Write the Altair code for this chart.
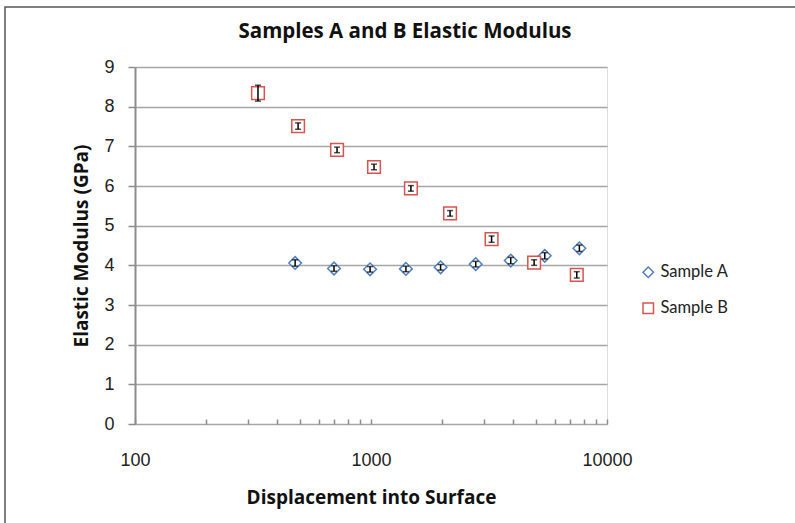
import altair as alt
import pandas as pd

# ---- data ----
series_names = ["Sample A", "Sample B"]

a_x = [477, 697, 991, 1406, 1972, 2778, 3910, 5448, 7638]
a_y = [4.06, 3.92, 3.90, 3.91, 3.95, 4.03, 4.12, 4.24, 4.43]
a_err = [0.08, 0.07, 0.07, 0.07, 0.07, 0.07, 0.08, 0.08, 0.08]

b_x = [332, 491, 718, 1030, 1476, 2163, 3243, 4911, 7447]
b_y = [8.34, 7.51, 6.91, 6.48, 5.94, 5.31, 4.66, 4.07, 3.76]
b_err = [0.20, 0.08, 0.07, 0.07, 0.07, 0.07, 0.08, 0.07, 0.08]

x_tick_values = [100, 200, 300, 400, 500, 600, 700, 800, 900,
                 1000, 2000, 3000, 4000, 5000, 6000, 7000, 8000, 9000, 10000]
x_label_values = [100, 1000, 10000]
y_tick_values = [0, 1, 2, 3, 4, 5, 6, 7, 8, 9]

series_colors = ["#4f81bd", "#d9534f"]
series_shapes = ["diamond", "square"]

rows = []
for name, xs, ys, es in [(series_names[0], a_x, a_y, a_err),
                         (series_names[1], b_x, b_y, b_err)]:
    for x, y, e in zip(xs, ys, es):
        rows.append({"series": name, "x": x, "y": y, "lo": y - e, "hi": y + e})
df = pd.DataFrame(rows)

W, H = 472, 357
GRAY = "#8c8c8c"
LABEL_FONT = "Liberation Sans"
TITLE_FONT = "Open Sans"
LEGEND_FONT = "Lato"

xscale = alt.Scale(type="log", domain=[100, 10000], nice=False)
yscale = alt.Scale(domain=[0, 9], nice=False, zero=True)

label_list = "[" + ",".join(str(v) for v in x_label_values) + "]"
xaxis = alt.Axis(
    values=x_tick_values,
    labelExpr=f"indexof({label_list}, datum.value) >= 0 ? format(datum.value, 'd') : ''",
    offset=-5, tickSize=5, tickColor=GRAY, tickWidth=1.5,
    domain=False, grid=False,
    labelFont=LABEL_FONT, labelFontSize=18, labelColor="#222",
    labelPadding=27, labelOverlap=False, labelFlush=False, labelBound=False,
    title="Displacement into Surface", titleFont=TITLE_FONT, titleFontSize=19,
    titleFontWeight="bold", titleColor="#111",
    titleX=W / 2, titleY=78, titleAlign="center", titleBaseline="middle",
)
yaxis = alt.Axis(
    values=y_tick_values, format="d",
    domain=True, domainColor=GRAY, domainWidth=2,
    ticks=True, tickSize=7, tickColor=GRAY, tickWidth=1.5,
    grid=True, gridColor="#a6a6a6", gridWidth=1.6,
    labelFont=LABEL_FONT, labelFontSize=18, labelColor="#222", labelPadding=14,
    title="Elastic Modulus (GPa)", titleFont=TITLE_FONT, titleFontSize=19,
    titleFontWeight="bold", titleColor="#111",
    titleX=-54, titleY=H / 2, titleAngle=-90, titleAlign="center", titleBaseline="middle",
)

legend = alt.Legend(
    title=None, orient="none", legendX=505, legendY=197,
    labelFont=LEGEND_FONT, labelFontSize=16.5, labelColor="#222",
    symbolStrokeWidth=1.5, symbolFillColor="white", symbolSize=110,
    rowPadding=19, labelOffset=4,
)

base = alt.Chart(df)

points = base.mark_point(filled=False, fill="white", fillOpacity=1, strokeWidth=1.5,
                         size=160, opacity=1).encode(
    x=alt.X("x:Q", scale=xscale, axis=xaxis),
    y=alt.Y("y:Q", scale=yscale, axis=yaxis),
    stroke=alt.Stroke("series:N", scale=alt.Scale(domain=series_names, range=series_colors),
                      legend=legend),
    shape=alt.Shape("series:N", scale=alt.Scale(domain=series_names, range=series_shapes),
                    legend=legend),
)

bars = base.mark_rule(color="black", strokeWidth=1.5).encode(
    x=alt.X("x:Q", scale=xscale, axis=xaxis),
    y=alt.Y("lo:Q", scale=yscale, axis=yaxis),
    y2="hi:Q",
)
caps_lo = base.mark_tick(orient="horizontal", color="black", size=6, thickness=1.5).encode(
    x=alt.X("x:Q", scale=xscale, axis=xaxis),
    y=alt.Y("lo:Q", scale=yscale, axis=yaxis),
)
caps_hi = base.mark_tick(orient="horizontal", color="black", size=6, thickness=1.5).encode(
    x=alt.X("x:Q", scale=xscale, axis=xaxis),
    y=alt.Y("hi:Q", scale=yscale, axis=yaxis),
)

frame = alt.Chart(pd.DataFrame({"k": [0]})).mark_rect(
    fillOpacity=0, stroke="#555", strokeWidth=1.5
).encode(
    x=alt.value(-130), x2=alt.value(700), y=alt.value(-60), y2=alt.value(600)
)

chart = alt.layer(frame, points, bars, caps_lo, caps_hi).properties(
    width=W, height=H,
    autosize=alt.AutoSizeParams(type="none"),
    padding={"left": 135, "top": 67, "right": 188, "bottom": 99},
    title=alt.TitleParams(
        "Samples A and B Elastic Modulus", font=TITLE_FONT, fontSize=20.5, fontWeight="bold",
        color="#111", anchor="middle", frame="group", dx=34, offset=-52, baseline="alphabetic",
    ),
).configure_view(stroke=None).configure(background="white")

chart.save("out.html", embed_options={"renderer": "svg", "actions": False})
